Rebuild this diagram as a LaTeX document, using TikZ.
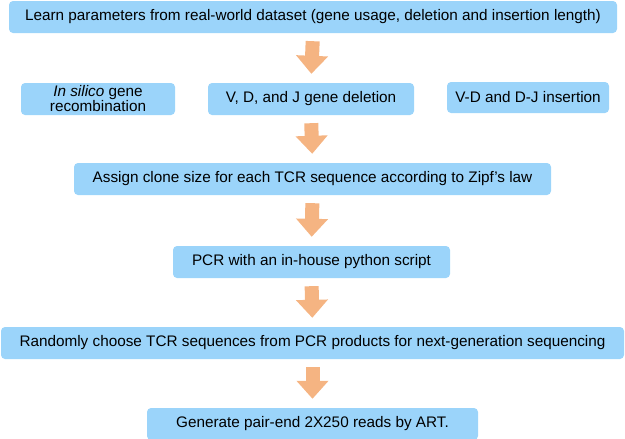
\documentclass[tikz,border=0pt]{standalone}
\usepackage{fontspec}
\setmainfont{Liberation Sans}
\usetikzlibrary{arrows.meta}
\definecolor{bxblue}{RGB}{155,212,250}
\definecolor{arorange}{RGB}{245,180,130}
\tikzset{bx/.append style={fill=bxblue, rounded corners=4pt, minimum height=32pt, inner sep=0pt, align=center, font=\fontsize{15.3}{15}\selectfont}}
\tikzset{fa/.append style={draw=arorange, line width=14pt, -{Triangle[width=31pt,length=18pt]}, arorange, shorten <=8pt, shorten >=9pt}}

\begin{document}
\begin{tikzpicture}[x=1pt,y=-1pt]
                \useasboundingbox (0,0) rectangle (625,439);
                % boxes
                \node[bx, minimum width=608pt] (lp) at (313,17) {Learn parameters from real-world dataset (gene usage, deletion and insertion length)};
                \node[bx, minimum width=154pt] (is) at (98,99) {\textit{In silico} gene\\recombination};
                \node[bx, minimum width=206pt] (dl) at (311,99) {V, D, and J gene deletion};
                \node[bx, minimum width=162pt, minimum height=31pt] (ins) at (528,97.5) {V-D and D-J insertion};
                \node[bx, minimum width=477pt] (cs) at (312.5,179) {Assign clone size for each TCR sequence according to Zipf's law};
                \node[bx, minimum width=277pt] (pcr) at (311.5,262) {PCR with an in-house python script};
                \node[bx, minimum width=623pt] (rc) at (312.5,343) {Randomly choose TCR sequences from PCR products for next-generation sequencing};
                \node[bx, minimum width=331pt] (gr) at (312.5,424) {Generate pair-end 2X250 reads by ART.};
                % arrows
                \path (lp.south) edge[fa] (dl.north);
                \path (dl.south) edge[fa] (cs.north);
                \path (cs.south) edge[fa] (pcr.north);
                \path (pcr.south) edge[fa] (rc.north);
                \path (rc.south) edge[fa] (gr.north);
            \end{tikzpicture}
\end{document}
